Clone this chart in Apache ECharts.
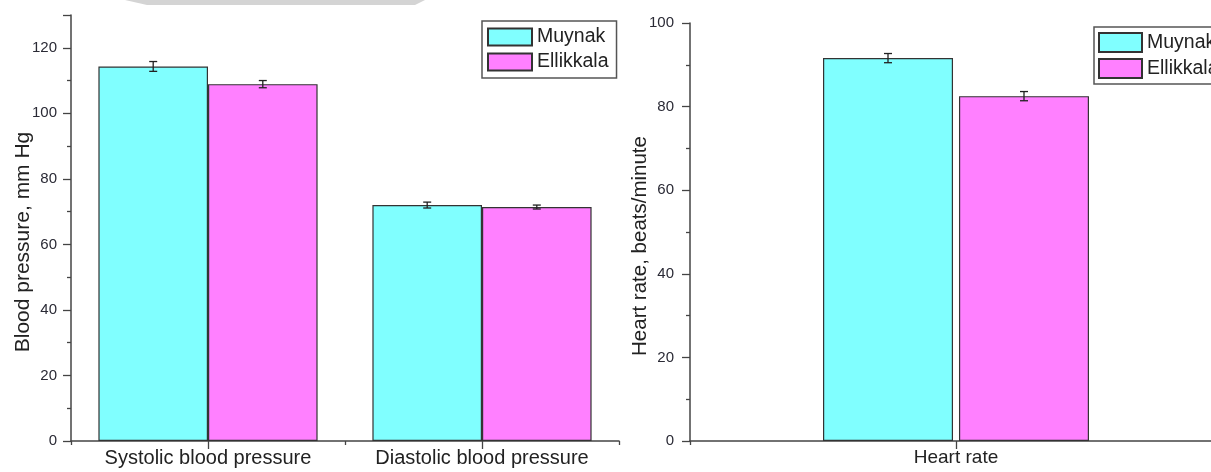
<!DOCTYPE html>
<html>
<head>
<meta charset="utf-8">
<script src="https://cdn.jsdelivr.net/npm/echarts@6/dist/echarts.min.js"></script>
<style>
html,body{margin:0;padding:0;background:#fff;}
#chart{width:1211px;height:472px;}
</style>
</head>
<body>
<div id="chart"></div>
<script>
// ---- data ----
const seriesNames = ['Muynak', 'Ellikkala'];
const bpCategories = ['Systolic blood pressure', 'Diastolic blood pressure'];
const bpMuynak = [114.3, 72.0];
const bpEllikkala = [108.9, 71.4];
const bpMuynakErr = [1.5, 0.9];
const bpEllikkalaErr = [1.1, 0.6];
const bpAxis = { min: 0, max: 130, interval: 20 };
const bpTitle = 'Blood pressure, mm Hg';

const hrCategories = ['Heart rate'];
const hrMuynak = [91.6];
const hrEllikkala = [82.5];
const hrMuynakErr = [1.1];
const hrEllikkalaErr = [1.1];
const hrAxis = { min: 0, max: 100, interval: 20 };
const hrTitle = 'Heart rate, beats/minute';

// ---- styles ----
const FONT = "'Liberation Sans', Arial, sans-serif";
const CYAN = '#80FFFF';
const MAGENTA = '#FF80FF';
const AXIS = '#444';

const chart = echarts.init(document.getElementById('chart'), null, { renderer: 'canvas' });

function errRender(offsetFn) {
  return function (params, api) {
    const idx = api.value(0), v = api.value(1), e = api.value(2);
    const band = api.size([1, 0])[0];
    const dx = offsetFn(band);
    const top = api.coord([idx, v + e]);
    const bot = api.coord([idx, v - e]);
    const x = top[0] + dx;
    const hw = 4;
    const st = { stroke: '#222', lineWidth: 1.3 };
    return {
      type: 'group',
      children: [
        { type: 'line', shape: { x1: x, y1: top[1], x2: x, y2: bot[1] }, style: st },
        { type: 'line', shape: { x1: x - hw, y1: top[1], x2: x + hw, y2: top[1] }, style: st },
        { type: 'line', shape: { x1: x - hw, y1: bot[1], x2: x + hw, y2: bot[1] }, style: st }
      ]
    };
  };
}

const barStyle = (c) => ({ color: c, borderColor: '#333', borderWidth: 1.2 });

function catAxis(gridIndex, data, centre, fontSize) {
  return {
    type: 'category', gridIndex, data, position: 'bottom',
    axisLine: { show: centre, lineStyle: { color: AXIS, width: 1.5 } },
    axisTick: centre ? { show: true, alignWithLabel: true, interval: 0, length: 8, inside: false, lineStyle: { color: AXIS, width: 1.3 } }
                     : { show: true, alignWithLabel: false, interval: 0, length: 4, lineStyle: { color: AXIS, width: 1.3 } },
    axisLabel: { show: centre, interval: 0, hideOverlap: false, fontSize: fontSize, fontFamily: FONT, color: '#222', margin: 7 },
    splitLine: { show: false }
  };
}

function valAxis(gridIndex, ax, title, nameGap, labelMargin, titleSize) {
  return {
    type: 'value', gridIndex, min: ax.min, max: ax.max, interval: ax.interval,
    axisLine: { show: true, lineStyle: { color: AXIS, width: 1.5 } },
    axisTick: { show: true, length: 8, lineStyle: { color: AXIS, width: 1.3 } },
    minorTick: { show: true, splitNumber: 2, length: 4, lineStyle: { color: AXIS, width: 1.3 } },
    axisLabel: { fontSize: 15, fontFamily: FONT, color: '#2a2a35', margin: labelMargin, showMaxLabel: ax.max % ax.interval === 0 },
    splitLine: { show: false },
    name: title, nameLocation: 'middle', nameGap: nameGap, nameMoveOverlap: false,
    nameTextStyle: { fontSize: titleSize, fontFamily: FONT, color: '#222', padding: [0, 28, 0, 0] }
  };
}

const legendCommon = {
  orient: 'vertical', icon: 'rect', data: seriesNames,
  borderColor: '#555', borderWidth: 1.5, borderRadius: 0,
  textStyle: { fontSize: 19.5, lineHeight: 19, fontFamily: FONT, color: '#222' },
  itemGap: 5, selectedMode: false
};

const option = {
  backgroundColor: '#fff',
  animation: false,
  graphic: [{
    type: 'polygon', silent: true,
    shape: { points: [[125, 0], [147, 5], [415, 5], [425, 0]] },
    style: { fill: '#d4d4d4' }
  }],
  grid: [
    { left: 71, top: 15, width: 548, height: 426, outerBoundsMode: 'none', containLabel: false },
    { left: 690, top: 23, width: 532, height: 418, outerBoundsMode: 'none', containLabel: false }
  ],
  legend: [
    Object.assign({}, legendCommon, { left: 482, top: 21, padding: [6, 8, 6, 5], itemWidth: 44, itemHeight: 17 }),
    Object.assign({}, legendCommon, { left: 1094, top: 27, padding: [5, 8, 5, 4], itemWidth: 43, itemHeight: 19 })
  ],
  xAxis: [
    catAxis(0, bpCategories, true, 20),
    catAxis(0, bpCategories, false, 20),
    catAxis(1, hrCategories, true, 19),
    catAxis(1, hrCategories, false, 19)
  ],
  yAxis: [
    valAxis(0, bpAxis, bpTitle, 37, 14, 21),
    valAxis(1, hrAxis, hrTitle, 39, 16, 20.5)
  ],
  series: [
    { type: 'bar', name: seriesNames[0], xAxisIndex: 0, yAxisIndex: 0, data: bpMuynak, barGap: '0%', barCategoryGap: '20%', itemStyle: barStyle(CYAN) },
    { type: 'bar', name: seriesNames[1], xAxisIndex: 0, yAxisIndex: 0, data: bpEllikkala, barGap: '0%', barCategoryGap: '20%', itemStyle: barStyle(MAGENTA) },
    { type: 'bar', name: seriesNames[0], xAxisIndex: 2, yAxisIndex: 1, data: hrMuynak, barWidth: 130, barGap: '4.6%', itemStyle: barStyle(CYAN) },
    { type: 'bar', name: seriesNames[1], xAxisIndex: 2, yAxisIndex: 1, data: hrEllikkala, barWidth: 130, barGap: '4.6%', itemStyle: barStyle(MAGENTA) },
    { type: 'custom', xAxisIndex: 0, yAxisIndex: 0, z: 5, renderItem: errRender(b => -b * 0.2),
      data: bpMuynak.map((v, i) => [i, v, bpMuynakErr[i]]) },
    { type: 'custom', xAxisIndex: 0, yAxisIndex: 0, z: 5, renderItem: errRender(b => b * 0.2),
      data: bpEllikkala.map((v, i) => [i, v, bpEllikkalaErr[i]]) },
    { type: 'custom', xAxisIndex: 2, yAxisIndex: 1, z: 5, renderItem: errRender(b => -68),
      data: hrMuynak.map((v, i) => [i, v, hrMuynakErr[i]]) },
    { type: 'custom', xAxisIndex: 2, yAxisIndex: 1, z: 5, renderItem: errRender(b => 68),
      data: hrEllikkala.map((v, i) => [i, v, hrEllikkalaErr[i]]) }
  ]
};
chart.setOption(option);
</script>
</body>
</html>
